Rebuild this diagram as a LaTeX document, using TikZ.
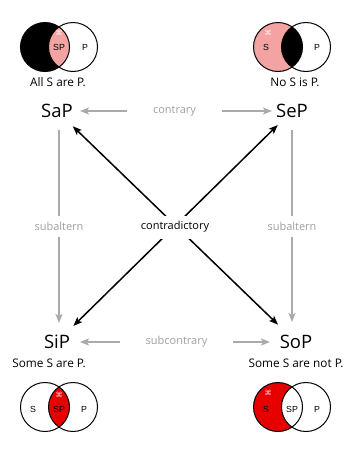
\documentclass[tikz,border=0pt]{standalone}
\usepackage{fontspec}
\setmainfont{Open Sans}
\newfontfamily\symfont{DejaVu Sans}
\newfontfamily\vennfont{Liberation Sans}
\usetikzlibrary{arrows.meta}
\definecolor{pinkfill}{HTML}{F4A3A3}
\definecolor{redfill}{HTML}{E60000}
\definecolor{relgray}{HTML}{AAAAAA}
\definecolor{labgray}{HTML}{A0A0A0}
\tikzset{
  corner/.style={font=\fontsize{18.5}{20}\selectfont, inner sep=0pt},
  caption/.style={font=\fontsize{11.8}{13}\selectfont, inner sep=0pt},
  vlab/.style={font=\vennfont\fontsize{8.8}{9}\selectfont, inner sep=0pt},
  sym/.style={font=\symfont\fontsize{7}{7}\selectfont, text=white, text opacity=0.85, inner sep=0pt},
  venn/.style={draw=black, line width=1pt},
  reltwo/.style={draw=relgray, line width=1.4pt, {Stealth[length=9pt,width=7pt,inset=2pt]}-{Stealth[length=9pt,width=7pt,inset=2pt]}},
  relone/.style={draw=relgray, line width=1.4pt, -{Stealth[length=9pt,width=7pt,inset=2pt]}},
  contra/.style={draw=black, line width=1.5pt, {Stealth[length=9pt,width=7pt,inset=2pt]}-{Stealth[length=9pt,width=7pt,inset=2pt]}},
  rlabel/.style={font=\fontsize{11}{12}\selectfont, text=labgray, fill=white, inner xsep=26pt, inner ysep=6pt},
  clabel/.style={font=\fontsize{11}{12}\selectfont, text=black, fill=white, inner xsep=4pt, inner ysep=6pt}
}
\begin{document}
\begin{tikzpicture}[x=1pt,y=-1pt]
\useasboundingbox[fill=white] (0,0) rectangle (350,453);

% ---- SaP Venn (top left)
\fill[black] (45,47) circle[radius=24.5pt];
\begin{scope}
  \clip (45,47) circle[radius=24.5pt];
  \fill[pinkfill] (73,47) circle[radius=24.5pt];
\end{scope}
\draw[venn] (45,47) circle[radius=24.5pt] (73,47) circle[radius=24.5pt];
\node[sym] (symA) at (59,33) {⌘};
\node[vlab] (spA) at (59,47) {SP};
\node[vlab] (pA) at (85,47) {P};

% ---- SeP Venn (top right)
\fill[pinkfill] (278,47) circle[radius=24.5pt];
\begin{scope}
  \clip (278,47) circle[radius=24.5pt];
  \fill[black] (306,47) circle[radius=24.5pt];
\end{scope}
\draw[venn] (278,47) circle[radius=24.5pt] (306,47) circle[radius=24.5pt];
\node[sym] (symE) at (268,33) {⌘};
\node[vlab] (sE) at (266,47) {S};
\node[vlab] (pE) at (317,47) {P};

% ---- SiP Venn (bottom left)
\begin{scope}
  \clip (45,407) circle[radius=24.5pt];
  \fill[redfill] (73,407) circle[radius=24.5pt];
\end{scope}
\draw[venn] (45,407) circle[radius=24.5pt] (73,407) circle[radius=24.5pt];
\node[sym] (symI) at (59,395) {⌘};
\node[vlab] (sI) at (33,409) {S};
\node[vlab] (spI) at (59,409) {SP};
\node[vlab] (pI) at (84,409) {P};

% ---- SoP Venn (bottom right)
\fill[redfill] (278,407) circle[radius=24.5pt];
\begin{scope}
  \clip (278,407) circle[radius=24.5pt];
  \fill[white] (306,407) circle[radius=24.5pt];
\end{scope}
\draw[venn] (278,407) circle[radius=24.5pt] (306,407) circle[radius=24.5pt];
\node[sym] (symO) at (268,393) {⌘};
\node[vlab] (sO) at (266,409) {S};
\node[vlab] (spO) at (292,409) {SP};
\node[vlab] (pO) at (317,409) {P};

% ---- captions
\node[caption] (capA) at (58,82) {All S are P.};
\node[caption] (capE) at (295,82) {No S is P.};
\node[caption] (capI) at (49,363) {Some S are P.};
\node[caption] (capO) at (296,363) {Some S are not P.};

% ---- corner nodes
\node[corner] (SaP) at (57,111) {SaP};
\node[corner] (SeP) at (292,111) {SeP};
\node[corner] (SiP) at (57,342) {SiP};
\node[corner] (SoP) at (296,342) {SoP};

% ---- relations
\draw[reltwo, shorten <=23pt, shorten >=20pt] (SaP.center) -- node[rlabel] (lcontrary) {contrary} (SeP.center);
\draw[reltwo, shorten <=23pt, shorten >=26pt] (SiP.center) -- node[rlabel] (lsubcontrary) {subcontrary} (SoP.center);
\draw[relone, shorten <=19pt, shorten >=19pt] ([xshift=2pt]SaP.center) -- node[rlabel] (lsubA) {subaltern} ([xshift=2pt]SiP.center);
\draw[relone, shorten <=19pt, shorten >=20pt] (SeP.center) -- node[rlabel] (lsubE) {subaltern} (SeP.center |- SoP.center);

\draw[contra, shorten <=22pt, shorten >=25pt] (SaP.center) -- (SoP.center);
\draw[contra, shorten <=20pt, shorten >=23pt] (SeP.center) -- (SiP.center);
\node[clabel] (lcontra) at (175,227) {contradictory};
\end{tikzpicture}
\end{document}
